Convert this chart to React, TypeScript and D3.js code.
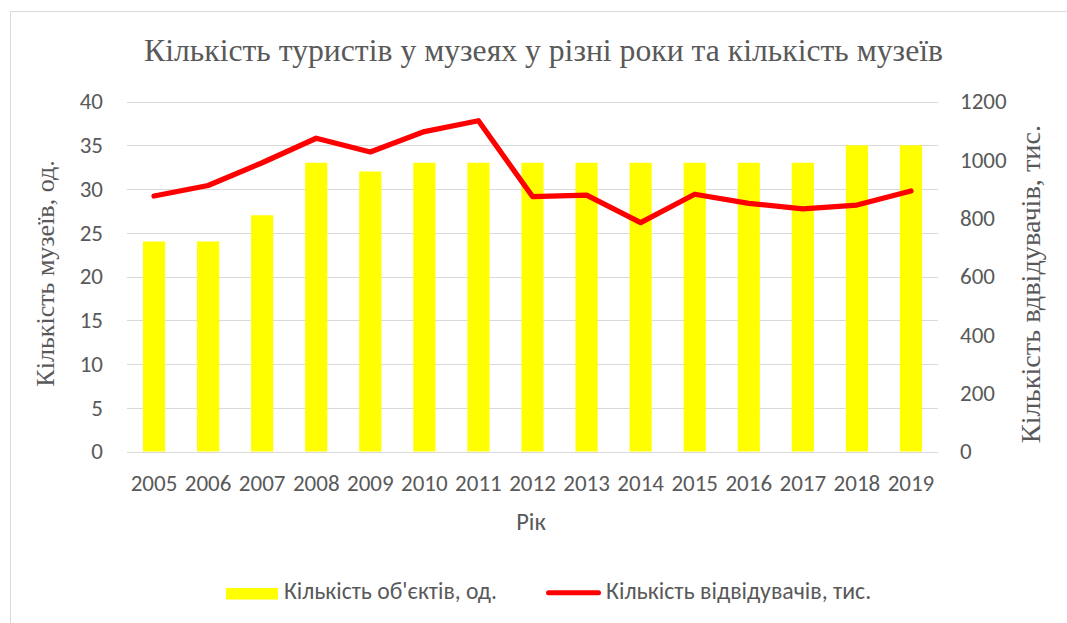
import React from "react";
import * as d3 from "d3";

const years = ["2005","2006","2007","2008","2009","2010","2011","2012","2013","2014","2015","2016","2017","2018","2019"];
const museums = [24,24,27,33,32,33,33,33,33,33,33,33,33,35,35];
const visitors = [876,912,990,1074,1027,1097,1134,874,879,785,882,851,832,845,893];
const leftTicks = [0,5,10,15,20,25,30,35,40];
const rightTicks = [0,200,400,600,800,1000,1200];

const W = 1067, H = 623;
const M = { left: 127, right: 938, top: 101.5, bottom: 451.5 };
const sans = "Carlito, Calibri, 'Liberation Sans', Arial, sans-serif";
const serif = "'Liberation Serif', 'Times New Roman', serif";
const grey = "#595959";

export default function App() {
  const x = d3.scaleBand<string>().domain(years).range([M.left, M.right]).paddingInner(0.59).paddingOuter(0.295);
  const xc = (y: string) => (x(y) as number) + x.bandwidth() / 2;
  const yL = d3.scaleLinear().domain([0, 40]).range([M.bottom, M.top]);
  const yR = d3.scaleLinear().domain([0, 1200]).range([M.bottom, M.top]);
  const line = d3.line<number>().x((_, i) => xc(years[i])).y((d) => yR(d));

  return (
    <svg width={W} height={H} style={{ position: "absolute", left: 0, top: 0, background: "#fff" }}>
      <rect x={10.5} y={11.5} width={W} height={H} fill="#fff" stroke="#d9d9d9" />
      <text x={543.5} y={61} textAnchor="middle" fontFamily={serif} fontSize={31.7} fill={grey}>
        Кількість туристів у музеях у різні роки та кількість музеїв
      </text>
      {leftTicks.map((t) => (
        <g key={t}>
          <line x1={M.left} x2={M.right} y1={Math.round(yL(t)) + 0.5} y2={Math.round(yL(t)) + 0.5} stroke="#d9d9d9" strokeWidth={1} />
          <text x={103} y={yL(t)} dy="0.34em" textAnchor="end" fontFamily={sans} fontSize={23} fill={grey}>{t}</text>
        </g>
      ))}
      {rightTicks.map((t) => (
        <text key={t} x={960} y={yR(t)} dy="0.34em" textAnchor="start" fontFamily={sans} fontSize={23} fill={grey}>{t}</text>
      ))}
      {museums.map((v, i) => (
        <rect key={years[i]} x={x(years[i])} y={yL(v)} width={x.bandwidth()} height={yL(0) - yL(v)} fill="#ffff00" />
      ))}
      <path d={line(visitors) || ""} fill="none" stroke="#ff0000" strokeWidth={5.3} strokeLinejoin="round" strokeLinecap="round" />
      {years.map((y) => (
        <text key={y} x={xc(y)} y={491} textAnchor="middle" fontFamily={sans} fontSize={23} fill={grey}>{y}</text>
      ))}
      <text x={531} y={530} textAnchor="middle" fontFamily={sans} fontSize={24.5} fill={grey}>Рік</text>
      <text transform="translate(54,273.5) rotate(-90)" textAnchor="middle" fontFamily={serif} fontSize={26} fill={grey}>Кількість музеїв, од.</text>
      <text transform="translate(1040,284) rotate(-90)" textAnchor="middle" fontFamily={serif} fontSize={28.3} fill={grey}>Кількість вдвідувачів, тис.</text>
      <rect x={226} y={588} width={52} height={11.5} fill="#ffff00" />
      <text x={284} y={599.3} fontFamily={sans} fontSize={23.6} fill={grey}>Кількість об'єктів, од.</text>
      <line x1={548.5} x2={598.5} y1={592.7} y2={592.7} stroke="#ff0000" strokeWidth={5} strokeLinecap="round" />
      <text x={606} y={599.3} fontFamily={sans} fontSize={23.8} fill={grey}>Кількість відвідувачів, тис.</text>
    </svg>
  );
}
